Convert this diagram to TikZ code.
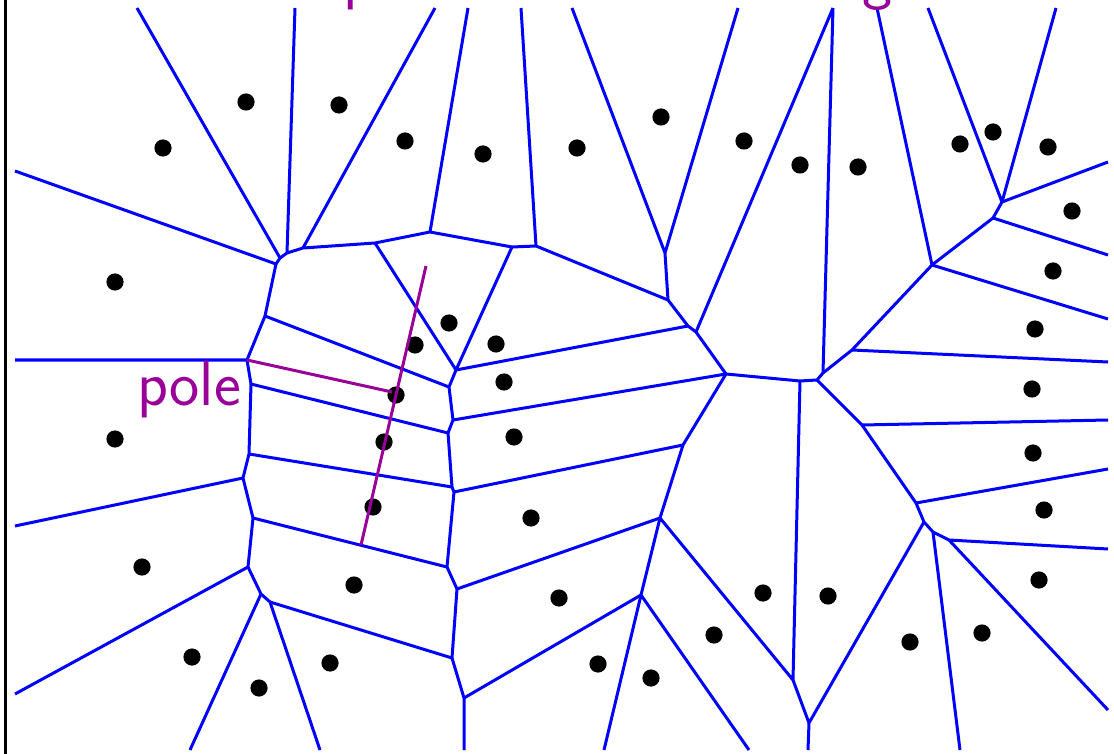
\documentclass[tikz,border=0pt]{standalone}
\usepackage{fontspec}
\definecolor{kantenblau}{HTML}{0000FF}
\definecolor{polviolett}{HTML}{990099}
\newcommand{\polschrift}{\fontsize{32}{32}\selectfont\sffamily}
\tikzset{kante/.style={kantenblau,line width=1.5pt,line join=round},
  pollinie/.style={polviolett,line width=1.5pt},
  rand/.style={black,line width=1.5pt}}
\newcommand{\zentrum}[2]{\fill[black] (#1,#2) circle (4.3pt);}

\begin{document}
\begin{tikzpicture}[x=0.5pt,y=-0.5pt]
\useasboundingbox (0,0) rectangle (1114,754);
\clip (0,0) rectangle (1114,754);
% Randpunkte
\coordinate (o1) at (137,8);   \coordinate (o2) at (295,8);   \coordinate (o3) at (435,8);
\coordinate (o4) at (468,8);   \coordinate (o5) at (521,8);   \coordinate (o6) at (572,8);
\coordinate (o7) at (738,8);   \coordinate (o8) at (833,8);   \coordinate (o9) at (877,8);
\coordinate (o10) at (928,8);  \coordinate (o11) at (1056,8);
\coordinate (l1) at (15,171);  \coordinate (l2) at (15,360);  \coordinate (l3) at (15,526);
\coordinate (l4) at (15,694);
\coordinate (r1) at (1108,162); \coordinate (r2) at (1108,255); \coordinate (r3) at (1108,319);
\coordinate (r4) at (1108,362); \coordinate (r5) at (1108,420); \coordinate (r6) at (1108,469);
\coordinate (r7) at (1108,549); \coordinate (r8) at (1108,710);
\coordinate (u1) at (190,750); \coordinate (u2) at (320,750); \coordinate (u3) at (464,750);
\coordinate (u4) at (604,750); \coordinate (u5) at (749,750); \coordinate (u6) at (808,750);
\coordinate (u7) at (960,750);
% Voronoi-Ecken
\coordinate (a1) at (276,264); \coordinate (a2) at (280,258); \coordinate (a3) at (287,253);
\coordinate (a4) at (303,248); \coordinate (a5) at (375,243); \coordinate (a6) at (430,232);
\coordinate (a7) at (512,247); \coordinate (a8) at (536,246);
\coordinate (b1) at (665,253); \coordinate (b2) at (668,300); \coordinate (b3) at (688,326);
\coordinate (b4) at (696,332); \coordinate (b5) at (726,374); \coordinate (b6) at (800,381);
\coordinate (b7) at (817,380); \coordinate (b8) at (823,373);
\coordinate (c1) at (852,350); \coordinate (c2) at (932,265); \coordinate (c3) at (993,218);
\coordinate (c4) at (1002,202); \coordinate (c5) at (862,425); \coordinate (c6) at (916,503);
\coordinate (c7) at (924,522); \coordinate (c8) at (933,532); \coordinate (c9) at (949,540);
\coordinate (d1) at (793,680); \coordinate (d2) at (809,723); \coordinate (d3) at (660,518);
\coordinate (d4) at (683,445); \coordinate (d5) at (641,595);
\coordinate (e1) at (265,316); \coordinate (e2) at (247,360); \coordinate (e3) at (251,384);
\coordinate (e4) at (249,454); \coordinate (e5) at (243,478); \coordinate (e6) at (253,518);
\coordinate (e7) at (248,567); \coordinate (e8) at (261,594); \coordinate (e9) at (270,602);
\coordinate (f1) at (456,370); \coordinate (f2) at (449,387); \coordinate (f3) at (453,420);
\coordinate (f4) at (448,433); \coordinate (f5) at (452,487); \coordinate (f6) at (454,492);
\coordinate (f7) at (447,567); \coordinate (f8) at (457,589); \coordinate (f9) at (452,658);
\coordinate (f10) at (464,698);
% Kanten
\draw[kante] (l1) -- (a1) -- (a2) -- (a3) -- (a4) -- (a5) -- (a6) -- (a7) -- (a8) -- (b2) -- (b3)
  -- (b4) -- (b5) -- (b6) -- (b7) -- (b8) -- (c1) -- (c2) -- (c3) -- (c4) -- (r1);
\draw[kante] (o1) -- (a2) (o2) -- (a3) (o3) -- (a4) (o4) -- (a6) (o5) -- (a8);
\draw[kante] (o6) -- (b1) -- (o7) (b1) -- (b2) (o8) -- (b4) (o8) -- (b8) (o9) -- (c2);
\draw[kante] (o10) -- (c4) -- (o11);
\draw[kante] (c3) -- (r2) (c2) -- (r3) (c1) -- (r4) (c5) -- (r5) (c6) -- (r6) (c9) -- (r7) (c9) -- (r8);
\draw[kante] (b7) -- (c5) -- (c6) -- (c7) -- (c8) -- (c9) (c8) -- (u7);
\draw[kante] (c7) -- (d2) -- (u6) (d2) -- (d1) -- (b6) (d1) -- (d3) -- (d4) -- (b5);
\draw[kante] (d3) -- (d5) -- (u4) (d5) -- (u5);
\draw[kante] (a1) -- (e1) -- (e2) -- (e3) -- (e4) -- (e5) -- (e6) -- (e7) -- (e8) -- (e9) -- (u2);
\draw[kante] (e8) -- (u1) (e2) -- (l2) (e5) -- (l3) (e7) -- (l4);
\draw[kante] (a5) -- (f1) -- (a7) (f1) -- (b3);
\draw[kante] (f1) -- (f2) -- (f3) -- (f4) -- (f5) -- (f6) -- (f7) -- (f8) -- (f9) -- (f10) -- (u3);
\draw[kante] (e1) -- (f2) (f3) -- (b5) (e3) -- (f4) (e4) -- (f5) (f6) -- (d4);
\draw[kante] (e6) -- (f7) (f8) -- (d3) (e9) -- (f9) (f10) -- (d5);
% Zentren
\zentrum{163}{148} \zentrum{246}{102} \zentrum{339}{105} \zentrum{405}{141}
\zentrum{483}{154} \zentrum{577}{148} \zentrum{661}{117} \zentrum{744}{141}
\zentrum{800}{165} \zentrum{858}{167} \zentrum{960}{144} \zentrum{993}{132}
\zentrum{1048}{147} \zentrum{1072}{211} \zentrum{1053}{271} \zentrum{1035}{329}
\zentrum{1032}{389} \zentrum{1033}{453} \zentrum{1044}{510} \zentrum{1039}{580}
\zentrum{982}{633} \zentrum{910}{642} \zentrum{828}{596} \zentrum{763}{593}
\zentrum{714}{635} \zentrum{651}{678} \zentrum{598}{664} \zentrum{559}{598}
\zentrum{531}{518} \zentrum{514}{437} \zentrum{504}{382} \zentrum{496}{344}
\zentrum{449}{323} \zentrum{415}{345} \zentrum{396}{395} \zentrum{384}{442}
\zentrum{373}{507} \zentrum{354}{585} \zentrum{330}{663} \zentrum{259}{688}
\zentrum{192}{657} \zentrum{142}{567} \zentrum{115}{439} \zentrum{115}{282}
% Pol
\coordinate (pa) at (426,266); \coordinate (pb) at (361,545); \coordinate (pz) at (392,392);
\draw[pollinie] (pa) -- (pb);
\draw[pollinie] (e2) -- (pz);
\node[anchor=base,inner sep=0,text=polviolett,font=\polschrift] (polname) at (189,405) {pole};
% Titelreste
\node[anchor=base west,inner sep=0,text=polviolett,font=\polschrift] (titelp) at (343,-2) {p};
\node[anchor=base west,inner sep=0,text=polviolett,font=\polschrift] (titelg) at (862,-2) {g};
\draw[rand] (5,0) -- (5,754);
\end{tikzpicture}
\end{document}
